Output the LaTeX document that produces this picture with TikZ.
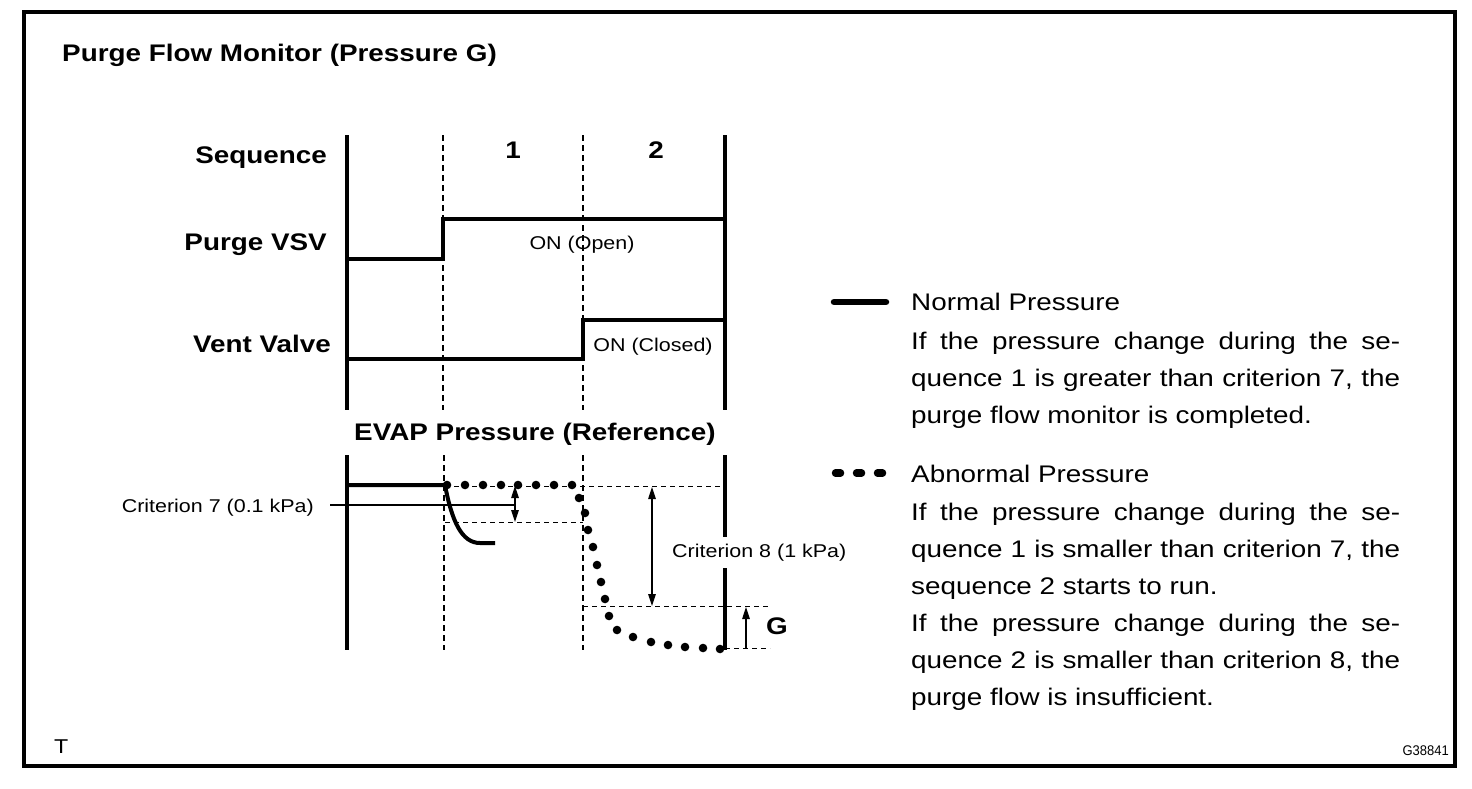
\documentclass[tikz,border=0pt]{standalone}
\usepackage{fontspec}
\usepackage{graphicx}
\setmainfont{Liberation Sans}[FakeStretch=1.16]
\usetikzlibrary{arrows.meta}
\tikzset{
  hd/.style={font=\fontsize{24}{28}\selectfont\bfseries, inner sep=0pt},
  sm/.style={font=\fontsize{18.5}{22}\selectfont, inner sep=0pt},
  body/.style={font=\fontsize{24}{28}\selectfont, inner sep=0pt, anchor=base west},
  axis/.style={line width=3.2pt},
  sig/.style={line width=3.6pt},
  grid/.style={line width=1.5pt, dash pattern=on 6pt off 4pt},
  fine/.style={line width=1pt, dash pattern=on 5pt off 4pt},
  arr/.style={line width=1.2pt, -{Triangle[length=12pt,width=7.5pt]}},
  darr/.style={line width=1.2pt, {Triangle[length=12pt,width=7.5pt]}-{Triangle[length=12pt,width=7.5pt]}},
}
\newcommand{\jline}[1]{\makebox[489pt][s]{#1}}
\begin{document}
\begin{tikzpicture}[x=1pt,y=-1pt]
\useasboundingbox (0,0) rectangle (1472,788);
% frame
\draw[line width=3.2pt] (24,12) rectangle (1455,766);
\node[hd, anchor=base west] (title) at (62,61) {Purge Flow Monitor (Pressure G)};

% upper chart axes
\coordinate (a0t) at (347,135); \coordinate (a0b) at (347,410);
\coordinate (a1t) at (443,135); \coordinate (a1b) at (443,410);
\coordinate (a2t) at (583,135); \coordinate (a2b) at (583,410);
\coordinate (a3t) at (725,135); \coordinate (a3b) at (725,410);
\draw[axis] (a0t) -- (a0b);
\draw[axis] (a3t) -- (a3b);
\draw[grid] (a1t) -- (a1b);
\draw[grid] (a2t) -- (a2b);

\node[hd, anchor=base east] (seq) at (327,163) {Sequence};
\node[hd, anchor=base] (s1) at (513,158) {1};
\node[hd, anchor=base] (s2) at (656,158) {2};
\node[hd, anchor=base east] (vsv) at (327,250) {Purge VSV};
\node[hd, anchor=base east] (vent) at (331,352) {Vent Valve};

% purge VSV signal
\coordinate (p0) at (347,259); \coordinate (p1) at (443,259);
\coordinate (p2) at (443,219); \coordinate (p3) at (725,219);
\draw[sig] (p0) -- (p1) -- (p2) -- (p3);
\node[sm, anchor=base] (on1) at (582,249) {ON (Open)};
% vent valve signal
\coordinate (v0) at (347,359); \coordinate (v1) at (583,359);
\coordinate (v2) at (583,320); \coordinate (v3) at (725,320);
\draw[sig] (v0) -- (v1) -- (v2) -- (v3);
\node[sm, anchor=base] (on2) at (653,351) {ON (Closed)};

\node[hd, anchor=base] (evap) at (535,440) {EVAP Pressure (Reference)};

% lower chart axes
\coordinate (b0t) at (347,455); \coordinate (b0b) at (347,650);
\coordinate (b1t) at (444,455); \coordinate (b1b) at (444,650);
\coordinate (b2t) at (583,455); \coordinate (b2b) at (583,650);
\coordinate (b3t) at (725,455); \coordinate (b3m) at (725,537);
\coordinate (b3n) at (725,568); \coordinate (b3b) at (725,650);
\draw[axis] (b0t) -- (b0b);
\draw[axis] (b3t) -- (b3m);
\draw[axis] (b3n) -- (b3b);
\draw[grid] (b1t) -- (b1b);
\draw[grid] (b2t) -- (b2b);

% reference dashed levels
\coordinate (r0) at (445,486); \coordinate (r1) at (725,486);
\draw[fine] (r0) -- (r1);
\coordinate (c7a) at (445,522); \coordinate (c7b) at (583,522);
\draw[fine] (c7a) -- (c7b);
\coordinate (c8a) at (583,606); \coordinate (c8b) at (770,606);
\draw[fine] (c8a) -- (c8b);
\coordinate (ga) at (725,648); \coordinate (gb) at (770,648);
\draw[fine] (ga) -- (gb);

% normal pressure
\coordinate (n0) at (347,485); \coordinate (n1) at (445,485);
\coordinate (n2) at (480,543); \coordinate (n3) at (495,543);
\draw[line width=4pt] (n0) -- (n1) .. controls (452,522) and (462,543) .. (n2) -- (n3);

% abnormal pressure dots
\foreach \x/\y in {447/485,465/485,483/485,501/485,518/485,536/485,554/485,572/485,
  579/498,585/513,588/530,593/547,597/565,601/582,605/599,609/616,617/630,
  633/637,651/642,668/645,685/647,703/648,720/649}
  \fill (\x,\y) circle (4.3pt);

% criterion 7
\coordinate (c7s) at (330,505); \coordinate (c7e) at (515,505);
\draw[line width=1.4pt] (c7s) -- (c7e);
\node[sm, anchor=base east] (crit7) at (314,512) {Criterion 7 (0.1 kPa)};
\coordinate (d7t) at (515,486); \coordinate (d7b) at (515,522);
\draw[darr] (d7t) -- (d7b);

% criterion 8
\coordinate (d8t) at (652,487); \coordinate (d8b) at (652,606);
\draw[darr] (d8t) -- (d8b);
\node[sm, anchor=base west] (crit8) at (672,557) {Criterion 8 (1 kPa)};

% G
\coordinate (gt) at (746,607); \coordinate (gbt) at (746,648);
\draw[arr] (gbt) -- (gt);
\node[hd, anchor=base west] (glab) at (766,634) {G};

% legend
\coordinate (l1a) at (834,302); \coordinate (l1b) at (886,302);
\draw[line width=6.5pt, line cap=round] (l1a) -- (l1b);
\foreach \x in {838,859,880}
  \draw[line width=7.5pt, line cap=round] (\x-2.5,473) -- (\x+2.5,473);

\node[body] (np) at (911,310.5) {Normal Pressure};
\node[body] (np1) at (911,349) {\jline{If the pressure change during the se-}};
\node[body] (np2) at (911,386) {\jline{quence 1 is greater than criterion 7, the}};
\node[body] (np3) at (911,423) {purge flow monitor is completed.};

\node[body] (ap) at (911,482) {Abnormal Pressure};
\node[body] (ap1) at (911,520) {\jline{If the pressure change during the se-}};
\node[body] (ap2) at (911,557) {\jline{quence 1 is smaller than criterion 7, the}};
\node[body] (ap3) at (911,594) {sequence 2 starts to run.};
\node[body] (ap4) at (911,631) {\jline{If the pressure change during the se-}};
\node[body] (ap5) at (911,668) {\jline{quence 2 is smaller than criterion 8, the}};
\node[body] (ap6) at (911,705) {purge flow is insufficient.};

\node[font=\fontsize{20}{24}\selectfont, inner sep=0pt, anchor=base west] (tmark) at (54,753) {T};
\node[inner sep=0pt, anchor=base east, font=\fontsize{14}{16}\selectfont] (code) at (1449,755) {\scalebox{0.8}[1]{G38841}};
\end{tikzpicture}
\end{document}
